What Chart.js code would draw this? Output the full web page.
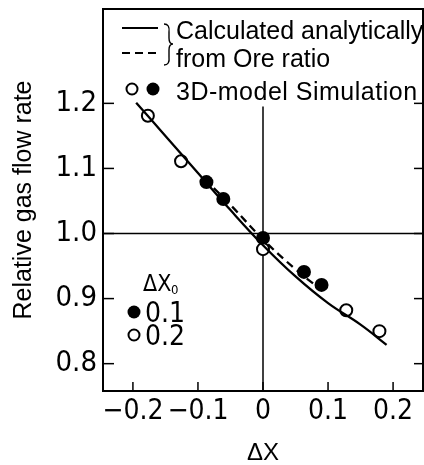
<!DOCTYPE html>
<html>
<head>
<meta charset="utf-8">
<script src="https://cdn.jsdelivr.net/npm/chart.js@4.4.1/dist/chart.umd.min.js"></script>
<style>
  html, body { margin: 0; padding: 0; background: #fff; }
  #wrap { width: 424px; height: 465px; }
</style>
</head>
<body>
<div id="wrap"><canvas id="chart" width="424" height="465"></canvas></div>
<script>
// Relative gas flow rate vs ΔX

// analytic curves
const solidX = [-0.195, -0.15, -0.1, -0.05, 0, 0.05, 0.1, 0.15, 0.19];
const solidY = [1.201, 1.150, 1.093, 1.036, 0.982, 0.934, 0.893, 0.860, 0.829];
const dashX = [-0.09, -0.05, 0, 0.05, 0.085];
const dashY = [1.084, 1.044, 0.991, 0.945, 0.917];

// 3D-model simulation points
const filledX = [-0.087, -0.061, 0, 0.063, 0.090];   // ΔX0 = 0.1
const filledY = [1.079, 1.053, 0.993, 0.941, 0.921];
const openX = [-0.177, -0.126, 0, 0.128, 0.179];     // ΔX0 = 0.2
const openY = [1.181, 1.111, 0.976, 0.882, 0.850];

const xTicks = [-0.2, -0.1, 0, 0.1, 0.2];
const yTicks = [0.8, 0.9, 1.0, 1.1, 1.2];

const legendLines = ['Calculated analytically', 'from Ore ratio'];
const simLabel = '3D-model Simulation';
const dx0Labels = ['0.1', '0.2'];

const narrow = "'Liberation Sans Narrow', 'DejaVu Sans Condensed', sans-serif";
const regular = "'Liberation Sans', Arial, sans-serif";

function pts(xs, ys) {
    return xs.map((v, i) => ({ x: v, y: ys[i] }));
}

function line(ctx, x1, y1, x2, y2) {
    ctx.beginPath();
    ctx.moveTo(x1, y1);
    ctx.lineTo(x2, y2);
    ctx.stroke();
}

function dot(ctx, x, y, r, filled) {
    ctx.beginPath();
    ctx.arc(x, y, r, 0, Math.PI * 2);
    if (filled) {
        ctx.fillStyle = '#000';
        ctx.fill();
    } else {
        ctx.fillStyle = '#fff';
        ctx.fill();
        ctx.lineWidth = 2;
        ctx.stroke();
    }
}

// zero lines, drawn under the data
const refLines = {
    id: 'refLines',
    beforeDatasetsDraw(chart) {
        const { ctx, chartArea: a, scales: { x, y } } = chart;
        ctx.save();
        ctx.strokeStyle = '#000';
        ctx.lineWidth = 1.5;
        const y1 = y.getPixelForValue(1.0);
        line(ctx, a.left, y1, a.right, y1);
        const x0 = x.getPixelForValue(0);
        line(ctx, x0, y.getPixelForValue(1.195), x0, a.bottom);
        ctx.restore();
    }
};

// frame, inward ticks and the hand-set legend
const frameAndLegend = {
    id: 'frameAndLegend',
    afterDatasetsDraw(chart) {
        const { ctx, chartArea: a, scales: { x, y } } = chart;
        ctx.save();
        ctx.strokeStyle = '#000';
        ctx.lineWidth = 2;
        ctx.strokeRect(a.left, a.top, a.right - a.left, a.bottom - a.top);

        ctx.lineWidth = 1.5;
        xTicks.forEach(v => {
            const px = x.getPixelForValue(v);
            line(ctx, px, a.bottom, px, a.bottom - 9);
        });
        yTicks.forEach(v => {
            const py = y.getPixelForValue(v);
            line(ctx, a.left, py, a.left + 11, py);
            line(ctx, a.right, py, a.right - 9, py);
        });

        // legend: line samples + brace
        ctx.lineWidth = 2.2;
        line(ctx, 122, 28, 158, 28);
        ctx.setLineDash([8, 5]);
        line(ctx, 122, 53, 158, 53);
        ctx.setLineDash([]);

        ctx.lineWidth = 1.4;
        ctx.beginPath();
        ctx.moveTo(164, 24);
        ctx.quadraticCurveTo(170, 24, 169, 32);
        ctx.lineTo(169, 38);
        ctx.quadraticCurveTo(169, 44, 173, 44);
        ctx.quadraticCurveTo(169, 44, 169, 50);
        ctx.lineTo(169, 57);
        ctx.quadraticCurveTo(170, 65, 164, 65);
        ctx.stroke();

        ctx.fillStyle = '#000';
        ctx.textBaseline = 'alphabetic';
        ctx.textAlign = 'left';
        ctx.font = '25px ' + regular;
        ctx.fillText(legendLines[0], 176, 39);
        ctx.fillText(legendLines[1], 176, 67);
        ctx.letterSpacing = '0.5px';
        ctx.fillText(simLabel, 176, 100);
        ctx.letterSpacing = '0px';

        ctx.strokeStyle = '#000';
        dot(ctx, 132, 89, 5.5, false);
        dot(ctx, 153, 89, 6.5, true);

        // ΔX0 key
        ctx.fillStyle = '#000';
        ctx.font = '23px ' + narrow;
        ctx.fillText('ΔX', 143, 291);
        ctx.font = '13px ' + narrow;
        ctx.fillText('0', 171, 294);

        dot(ctx, 134, 312, 6.5, true);
        dot(ctx, 134, 335, 5.5, false);
        ctx.fillStyle = '#000';
        ctx.font = '28px ' + narrow;
        ctx.fillText(dx0Labels[0], 145, 322);
        ctx.fillText(dx0Labels[1], 145, 345);
        ctx.restore();
    }
};

const ctx = document.getElementById('chart');

new Chart(ctx, {
    type: 'scatter',
    data: {
        datasets: [
            {
                label: 'Calculated analytically',
                data: pts(solidX, solidY),
                showLine: true,
                borderColor: '#000',
                borderWidth: 2.3,
                pointRadius: 0,
                tension: 0.4,
                fill: false
            },
            {
                label: 'from Ore ratio',
                data: pts(dashX, dashY),
                showLine: true,
                borderColor: '#000',
                borderWidth: 2.3,
                borderDash: [8, 5],
                pointRadius: 0,
                tension: 0.4,
                fill: false
            },
            {
                label: 'ΔX0 = 0.2',
                data: pts(openX, openY),
                pointRadius: 6,
                pointBorderWidth: 2,
                pointBackgroundColor: '#fff',
                pointBorderColor: '#000'
            },
            {
                label: 'ΔX0 = 0.1',
                data: pts(filledX, filledY),
                pointRadius: 7,
                pointBorderWidth: 0,
                pointBackgroundColor: '#000',
                pointBorderColor: '#000'
            }
        ]
    },
    options: {
        responsive: false,
        animation: false,
        layout: {
            autoPadding: false,
            padding: { top: 9, right: 1, left: 0, bottom: 0 }
        },
        plugins: {
            legend: { display: false },
            tooltip: { enabled: false }
        },
        scales: {
            x: {
                type: 'linear',
                min: -0.246,
                max: 0.246,
                afterBuildTicks: axis => {
                    axis.ticks = xTicks.map(v => ({ value: v }));
                },
                afterFit: axis => {
                    axis.height = 74;
                    axis.paddingLeft = 0;
                    axis.paddingRight = 0;
                },
                grid: { display: false, drawTicks: false },
                border: { display: false },
                ticks: {
                    padding: 4,
                    color: '#000',
                    maxRotation: 0,
                    font: { family: narrow, size: 28 },
                    callback: v => (v < 0 ? '\u2212' + Math.abs(v).toFixed(1) : (v === 0 ? '0' : v.toFixed(1)))
                },
                title: {
                    display: true,
                    text: 'ΔX',
                    color: '#000',
                    padding: 0,
                    font: { family: regular, size: 24, lineHeight: 1 }
                }
            },
            y: {
                type: 'linear',
                min: 0.758,
                max: 1.345,
                afterBuildTicks: axis => {
                    axis.ticks = yTicks.map(v => ({ value: v }));
                },
                afterFit: axis => {
                    axis.width = 103;
                    axis.paddingTop = 0;
                    axis.paddingBottom = 0;
                },
                grid: { display: false, drawTicks: false },
                border: { display: false },
                ticks: {
                    padding: 6,
                    color: '#000',
                    font: { family: narrow, size: 29 },
                    callback: v => v.toFixed(1)
                },
                title: {
                    display: true,
                    text: 'Relative gas flow rate',
                    color: '#000',
                    padding: { top: 9, bottom: 0 },
                    font: { family: regular, size: 25, lineHeight: 1.2 }
                }
            }
        }
    },
    plugins: [refLines, frameAndLegend]
});
</script>
</body>
</html>
